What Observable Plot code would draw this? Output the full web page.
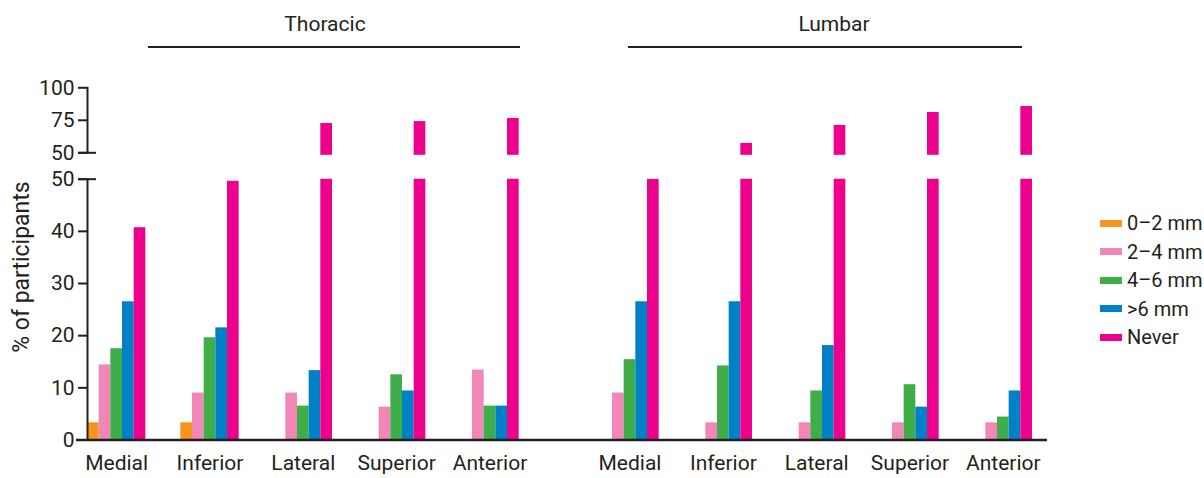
<!DOCTYPE html>
<html>
<head>
<meta charset="utf-8">
<script src="https://cdn.jsdelivr.net/npm/d3@7"></script>
<script src="https://cdn.jsdelivr.net/npm/@observablehq/plot@0.6"></script>
<style>
  html, body { margin: 0; padding: 0; background: #fff; }
  #root { position: relative; width: 1204px; height: 478px; overflow: hidden;
          font-family: Roboto, "DejaVu Sans Condensed", sans-serif; color: #231F20; }
  #root svg { position: absolute; left: 0; top: 0; }
  .hdr { position: absolute; font-size: 21px; line-height: 21px; text-align: center; width: 200px; color: #231F20; white-space: nowrap; }
  .hline { position: absolute; height: 2px; background: #231F20; }
  .ylab { position: absolute; font-size: 23px; line-height: 24px; width: 300px; text-align: center; white-space: nowrap;
          transform: rotate(-90deg); transform-origin: center center; color: #231F20; }
  .legend { position: absolute; left: 1100px; top: 209px; }
  .legend .row { height: 28.5px; display: flex; align-items: center; font-size: 20px; color: #231F20; white-space: nowrap; }
  .legend .sw { width: 22px; height: 7px; margin-right: 5px; flex: none; }
</style>
</head>
<body>
<div id="root"></div>
<script>
// ---- data ----
const regions = ["Thoracic", "Lumbar"];
const locations = ["Medial", "Inferior", "Lateral", "Superior", "Anterior"];
const sizes = ["0–2 mm", "2–4 mm", "4–6 mm", ">6 mm", "Never"];
const colors = ["#F7941D", "#F287B7", "#3FAE49", "#0080C6", "#EC008C"];

// % of participants, one value per location (Medial, Inferior, Lateral, Superior, Anterior)
const thoracic_0_2 = [3.3, 3.3, 0, 0, 0];
const thoracic_2_4 = [14.4, 9.0, 9.0, 6.3, 13.4];
const thoracic_4_6 = [17.5, 19.6, 6.5, 12.5, 6.5];
const thoracic_gt6 = [26.5, 21.5, 13.3, 9.4, 6.5];
const thoracic_never = [40.7, 49.6, 72.5, 74.0, 76.4];

const lumbar_0_2 = [0, 0, 0, 0, 0];
const lumbar_2_4 = [9.0, 3.3, 3.3, 3.3, 3.3];
const lumbar_4_6 = [15.4, 14.2, 9.4, 10.6, 4.4];
const lumbar_gt6 = [26.5, 26.5, 18.1, 6.3, 9.4];
const lumbar_never = [50.0, 57.2, 71.0, 81.0, 85.6];

const yTicksLower = [0, 10, 20, 30, 40, 50];
const yTicksUpper = [50, 75, 100];

// ---- table ----
const series = {
  Thoracic: [thoracic_0_2, thoracic_2_4, thoracic_4_6, thoracic_gt6, thoracic_never],
  Lumbar: [lumbar_0_2, lumbar_2_4, lumbar_4_6, lumbar_gt6, lumbar_never]
};
const data = [];
regions.forEach(r => locations.forEach((l, li) => sizes.forEach((s, si) => {
  data.push({region: r, location: l, size: s, key: `${r}|${l}|${s}`, value: series[r][si][li]});
})));

// band domain: 5 bars per location, 3 empty bands between locations, 7 between regions
const xDomain = [];
regions.forEach((r, ri) => {
  if (ri > 0) for (let k = 0; k < 7; k++) xDomain.push(`gap|${k}`);
  locations.forEach((l, li) => {
    if (li > 0) for (let k = 0; k < 3; k++) xDomain.push(`${r}|gap${li}|${k}`);
    sizes.forEach(s => xDomain.push(`${r}|${l}|${s}`));
  });
});
const midKeys = [];
regions.forEach(r => locations.forEach(l => midKeys.push(`${r}|${l}|${sizes[2]}`)));

const W = 1204, H = 478;
const common = {
  width: W, height: H, marginLeft: 87, marginRight: 172,
  style: {fontFamily: 'Roboto, "DejaVu Sans Condensed", sans-serif', fontSize: "21px", color: "#231F20", background: "transparent", overflow: "visible"},
  color: {domain: sizes, range: colors}
};
const ink = "#231F20";

const upper = Plot.plot({
  ...common,
  marginTop: 87.3, marginBottom: H - 152.3,
  x: {type: "band", domain: xDomain, padding: 0, round: false, axis: null},
  y: {domain: [50, 100]},
  marks: [
    Plot.barY(data.filter(d => d.size === "Never" && d.value > 50), {x: "key", y1: 50, y2: "value", fill: "size", insetBottom: -2.5}),
    Plot.frame({anchor: "left", stroke: ink, strokeWidth: 2}),
    Plot.axisY({ticks: yTicksUpper, tickSize: 9, tickPadding: 4, strokeWidth: 2, label: null}),
    Plot.axisY({ticks: [50], tickSize: 18, dx: 9, strokeWidth: 2, tickFormat: () => "", label: null})
  ]
});

const lower = Plot.plot({
  ...common,
  marginTop: 178.7, marginBottom: H - 439.5,
  x: {type: "band", domain: xDomain, padding: 0, round: false},
  y: {domain: [0, 50]},
  marks: [
    Plot.barY(data.filter(d => d.value > 0), {x: "key", y: "value", fill: "size", clip: true}),
    Plot.frame({anchor: "left", stroke: ink, strokeWidth: 2}),
    Plot.ruleY([0], {stroke: ink, strokeWidth: 2.5, insetLeft: -11, insetRight: -15}),
    Plot.axisY({ticks: yTicksLower, tickSize: 9, tickPadding: 4, strokeWidth: 2, label: null}),
    Plot.axisY({ticks: [50], tickSize: 18, dx: 9, strokeWidth: 2, tickFormat: () => "", label: null}),
    Plot.axisX({ticks: midKeys, tickFormat: k => k.split("|")[1], tickSize: 0, tickPadding: 15, label: null, fontSize: 21})
  ]
});

const root = document.getElementById("root");
root.appendChild(upper);
root.appendChild(lower);

// header titles and rules
const headers = [
  {text: regions[0], cx: 325, x1: 148, x2: 520},
  {text: regions[1], cx: 834, x1: 628, x2: 1022}
];
headers.forEach(h => {
  const t = document.createElement("div");
  t.className = "hdr"; t.textContent = h.text;
  t.style.left = (h.cx - 100) + "px"; t.style.top = "14px";
  root.appendChild(t);
  const ln = document.createElement("div");
  ln.className = "hline";
  ln.style.left = h.x1 + "px"; ln.style.width = (h.x2 - h.x1) + "px"; ln.style.top = "45.5px";
  root.appendChild(ln);
});

// y label
const yl = document.createElement("div");
yl.className = "ylab"; yl.textContent = "% of participants";
yl.style.left = (22 - 150) + "px"; yl.style.top = (267 - 12) + "px";
root.appendChild(yl);

// legend
const lg = document.createElement("div");
lg.className = "legend";
sizes.forEach((s, i) => {
  const row = document.createElement("div");
  row.className = "row";
  const sw = document.createElement("span");
  sw.className = "sw"; sw.style.background = colors[i];
  const tx = document.createElement("span");
  tx.textContent = s;
  row.appendChild(sw); row.appendChild(tx);
  lg.appendChild(row);
});
root.appendChild(lg);
</script>
</body>
</html>
